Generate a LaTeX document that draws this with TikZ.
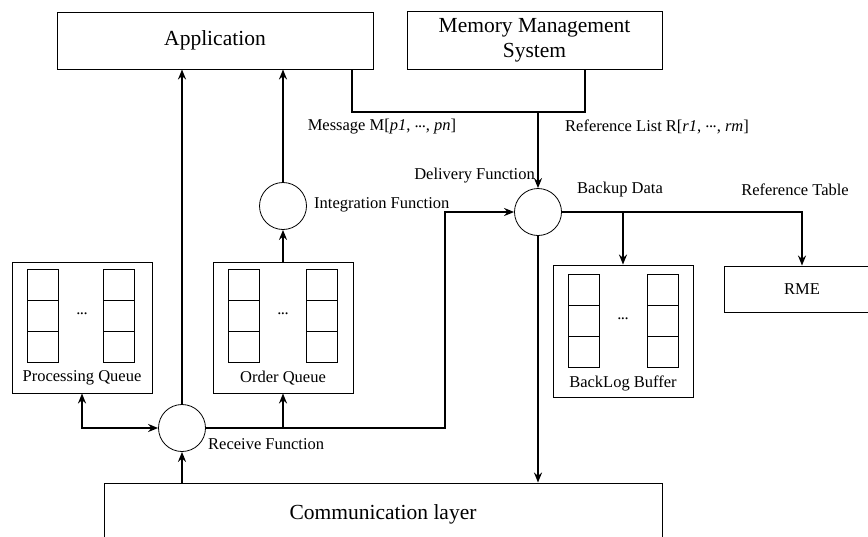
\documentclass[tikz,border=0pt]{standalone}
\usepackage{fontspec}
\setmainfont{Liberation Serif}
\usetikzlibrary{arrows.meta,positioning,calc}
\tikzset{
  >={Stealth[length=10pt,width=8pt]},
  every node/.style={font=\fontsize{16.5}{19}\selectfont},
  box/.style={draw,line width=0.9pt,align=center,inner sep=2pt},
  big/.style={font=\fontsize{21.5}{25}\selectfont},
  queue/.style={draw,line width=0.9pt,minimum width=140pt,minimum height=131pt},
  fn/.style={circle,draw,line width=0.8pt,minimum size=47pt,inner sep=0pt},
  arrow/.style={->,line width=1.8pt},
  link/.style={line width=1.8pt},
  cell/.style={line width=0.9pt},
  label/.style={inner sep=1pt},
}
% one column of three buffer slots, top-left corner at (#1,#2)
\newcommand{\slotcol}[2]{\foreach \r in {0,1,2} \draw[cell] (#1,#2+31*\r) rectangle ++(31,31);}
% tight centred dots
\newcommand{\tdots}{\raisebox{0.5ex}{.\kern-0.5pt.\kern-0.5pt.}}

\begin{document}
\begin{tikzpicture}[x=1pt,y=-1pt]
  \useasboundingbox (0,0) rectangle (868,536);

  % upper layer
  \node[box,big,minimum width=316pt,minimum height=57pt] (app) at (215,40.5) {Application};
  \node[box,big,minimum width=255pt,minimum height=58pt] (mms) at (534.5,40) {Memory Management\\System};

  % functions
  \node[fn] (integ) at (283,206) {};
  \node[fn] (deliv) at (538,212) {};
  \node[fn] (recv) at (182,428) {};

  % queues and buffers
  \node[queue] (pq) at (82,327.5) {};
  \node[queue] (oq) at (283,327.5) {};
  \node[queue,minimum height=132pt] (bl) at (623,331) {};
  \slotcol{27}{269} \slotcol{103}{269}
  \slotcol{228}{269} \slotcol{306}{269}
  \slotcol{568}{274} \slotcol{647}{274}
  \node[label] (pqdots) at (82,316) {\tdots};
  \node[label] (oqdots) at (283,316) {\tdots};
  \node[label] (bldots) at (623,321) {\tdots};
  \node[label] (pqname) at (82,378) {Processing Queue};
  \node[label] (oqname) at (283,378) {Order Queue};
  \node[label] (blname) at (623,383) {BackLog Buffer};

  \node[box,minimum width=156pt,minimum height=46pt] (rme) at (802,289) {RME};
  \node[box,big,minimum width=558pt,minimum height=62pt] (comm) at (383,514) {Communication layer};

  % message and reference list into delivery
  \coordinate (msg) at (352,112);
  \coordinate (ref) at (585,112);
  \draw[link] (app.south -| msg) -- (msg) -- (ref) -- (mms.south -| ref);
  \draw[arrow] (deliv |- msg) -- (deliv.north);

  % receive path
  \draw[arrow] (recv |- comm.north) -- (recv.south);
  \draw[arrow] (recv.north) -- (recv |- app.south);
  \draw[arrow,<->] (pq.south) |- (recv.west);
  \coordinate (turn) at (445,428);
  \draw[arrow] (recv.east) -- (turn) |- (deliv.west);
  \draw[arrow] (oq.south |- recv.east) -- (oq.south);
  \draw[arrow] (oq.north) -- (integ.south);
  \draw[arrow] (integ.north) -- (integ |- app.south);

  % delivery outputs
  \draw[arrow] (deliv.south) -- (deliv |- comm.north);
  \draw[arrow] (deliv.east) -| (rme.north);
  \draw[arrow] (bl.north |- deliv.east) -- (bl.north);

  % labels
  \node[label] (msglbl) at (382,127) {Message M[\textit{p1}, \tdots, \textit{pn}]};
  \node[label] (reflbl) at (657,127) {Reference List R[\textit{r1}, \tdots, \textit{rm}]};
  \node[label,anchor=east] (dellbl) at (536,176) {Delivery Function};
  \node[label,anchor=west] (intlbl) at (313,205) {Integration Function};
  \node[label,anchor=west] (reclbl) at (207,444) {Receive Function};
  \node[label] (bkplbl) at (620,190) {Backup Data};
  \node[label] (tbllbl) at (795,190) {Reference Table};
\end{tikzpicture}
\end{document}
